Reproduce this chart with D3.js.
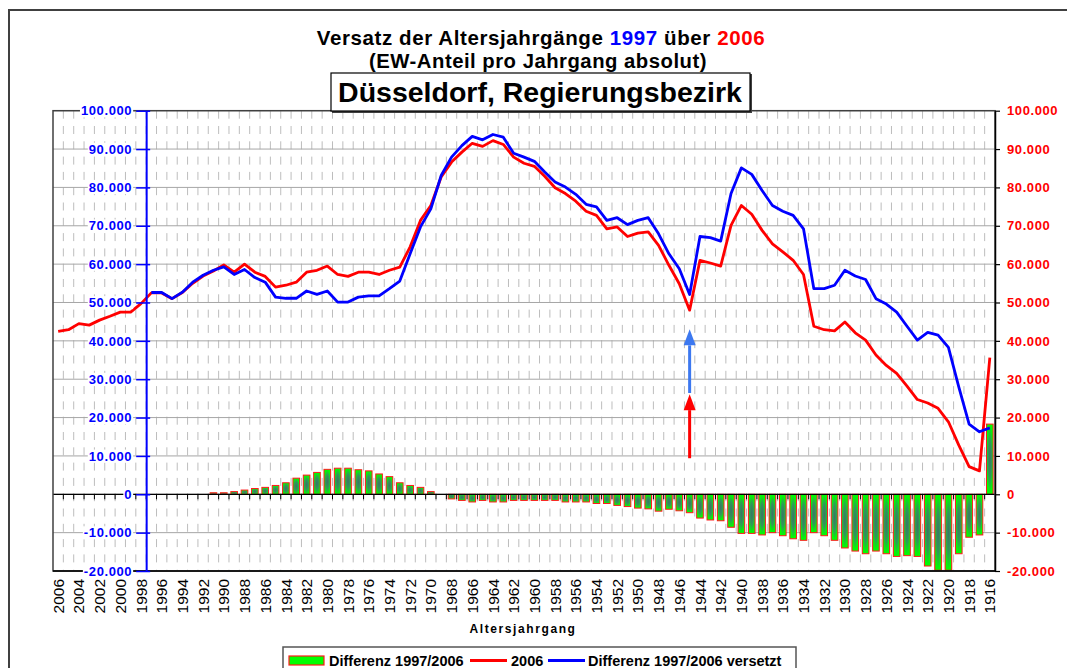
<!DOCTYPE html>
<html>
<head>
<meta charset="utf-8">
<script src="https://cdn.jsdelivr.net/npm/d3@7"></script>
<style>
  html, body { margin: 0; padding: 0; background: #fff; }
  svg { display: block; font-family: "Liberation Sans", Arial, sans-serif; }
</style>
</head>
<body>
<svg id="chart" width="1067" height="668"></svg>
<script>
// Altersjahrgänge 2006 -> 1916
const years = d3.range(2006, 1915, -1);

// 2006 (rote Linie)
const ew2006 = [
  42500, 42900, 44500, 44100, 45400, 46400, 47500, 47500, 49700, 52500,
  52500, 51000, 52600, 55000, 56900, 58200, 59800, 57900, 60000, 57900,
  56800, 54000, 54500, 55300, 57900, 58400, 59500, 57300, 56800, 57900,
  57900, 57300, 58400, 59200, 64500, 71400, 75300, 82700, 86600, 89200,
  91500, 90700, 92200, 91200, 87900, 86300, 85500, 82900, 79900, 78400,
  76400, 73800, 72700, 69200, 69700, 67200, 68100, 68400, 64900, 59700,
  54900, 48000, 61000, 60300, 59500, 70100, 75300, 73000, 68800, 65300,
  63200, 61000, 57300, 43800, 42900, 42600, 44900, 42100, 40200, 36300,
  33600, 31500, 28200, 24700, 23800, 22400, 18900, 12800, 7200, 6100,
  35600
];

// Differenz 1997/2006 versetzt (blaue Linie), beginnt 1997
const ewVersetzt = [
  null, null, null, null, null, null, null, null, null,
  52600, 52600, 51000, 52700, 55300, 57100, 58400, 59300, 57300, 58600,
  56500, 55300, 51400, 51100, 51100, 53000, 52100, 53000, 50100, 50100,
  51400, 51700, 51700, 53600, 55600, 62700, 69700, 74400, 83100, 87900,
  90900, 93300, 92400, 93800, 93100, 88900, 87900, 86800, 84000, 81400,
  80100, 78200, 75600, 74900, 71400, 72100, 70300, 71400, 72100, 67900,
  62700, 58800, 52100, 67200, 66900, 66000, 78400, 85100, 83400, 79200,
  75300, 73800, 72700, 69200, 53600, 53600, 54500, 58400, 56900, 56000,
  51000, 49600, 47500, 43800, 40200, 42200, 41500, 38300, 28000, 18300,
  16300, 17300
];

// Differenz 1997/2006 (Säulen)
const differenz = [
  0, 0, 0, 0, 0, 0, 0, 0, 0, 0, 0, 0, 0, 0, 0,
  400, 400, 700, 1100, 1500, 1800, 2300, 3000, 4200, 5000,
  5700, 6500, 6800, 6800, 6400, 6100, 5300, 4600, 3000, 2300,
  1800, 700, 0, -1200, -1600, -2000, -1600, -2000, -2000, -1600,
  -1600, -1600, -1600, -1600, -2000, -2000, -2000, -2400, -2400, -2900,
  -3200, -3600, -3800, -4400, -3900, -4300, -4800, -6200, -6700, -6900,
  -8600, -10200, -10200, -10600, -10000, -10800, -11600, -12000, -10000, -10800,
  -12000, -14000, -14800, -15500, -14800, -15500, -16200, -16000, -16200, -18700,
  -19800, -19800, -15500, -11200, -10600, 18300
];

const yTicks = [-20000, -10000, 0, 10000, 20000, 30000, 40000, 50000, 60000, 70000, 80000, 90000, 100000];
const xLabelYears = years.filter(d => d % 2 === 0);

// Pfeile (Jahrgang 1945)
const arrows = [
  { year: 1945, from: 9400, to: 26100, color: '#ff0000' },
  { year: 1945, from: 26400, to: 43000, color: '#3c78f0' }
];

const legendItems = [
  { label: 'Differenz 1997/2006', type: 'bar' },
  { label: '2006', type: 'line', color: '#ff0000' },
  { label: 'Differenz 1997/2006 versetzt', type: 'line', color: '#0000ff' }
];

const plot = { left: 53, right: 995, top: 110.7, bottom: 571 };

const svg = d3.select('#chart');

const fmt = d3.formatLocale({
  decimal: ',', thousands: '.', grouping: [3], currency: ['', ' €'], minus: '-'
}).format(',d');

const x = d3.scaleBand().domain(years).range([plot.left, plot.right]).padding(0);
const y = d3.scaleLinear().domain([-20000, 100000]).range([plot.bottom, plot.top]);
const cx = d => x(d) + x.bandwidth() / 2;

// Gradient for bars (dark centre, bright green edges)
const defs = svg.append('defs');
const grad = defs.append('radialGradient').attr('id', 'barGrad')
  .attr('cx', 0.5).attr('cy', 0.5).attr('r', 0.5);
grad.append('stop').attr('offset', '0%').attr('stop-color', '#3a7565');
grad.append('stop').attr('offset', '55%').attr('stop-color', '#2f9a58');
grad.append('stop').attr('offset', '100%').attr('stop-color', '#00ff00');

// Outer frame
svg.append('rect')
  .attr('x', 9).attr('y', 10).attr('width', 1100).attr('height', 700)
  .attr('fill', '#fff').attr('stroke', '#404040').attr('stroke-width', 2);

// Grid
const grid = svg.append('g');
grid.selectAll('line.v')
  .data(years.slice(1))
  .enter().append('line')
  .attr('x1', d => x(d)).attr('x2', d => x(d))
  .attr('y1', plot.top).attr('y2', plot.bottom)
  .attr('stroke', '#bdbdbd').attr('stroke-width', 1)
  .attr('stroke-dasharray', '8,7.3');

grid.selectAll('line.h')
  .data(yTicks)
  .enter().append('line')
  .attr('x1', plot.left).attr('x2', plot.right)
  .attr('y1', d => y(d)).attr('y2', d => y(d))
  .attr('stroke', '#a6a6a6').attr('stroke-width', 1);

// Bars
const bw = x.bandwidth() * 0.64;
svg.append('g').selectAll('rect')
  .data(years.map((yr, i) => ({ year: yr, v: differenz[i] })).filter(d => d.v !== 0))
  .enter().append('rect')
  .attr('x', d => cx(d.year) - bw / 2)
  .attr('width', bw)
  .attr('y', d => y(Math.max(0, d.v)))
  .attr('height', d => Math.abs(y(d.v) - y(0)))
  .attr('fill', 'url(#barGrad)')
  .attr('stroke', '#ff1a1a').attr('stroke-width', 1);

// Zero line + ticks
svg.append('line')
  .attr('x1', plot.left).attr('x2', plot.right)
  .attr('y1', y(0)).attr('y2', y(0))
  .attr('stroke', '#000').attr('stroke-width', 1.2);
svg.append('g').selectAll('line')
  .data(years.slice(1))
  .enter().append('line')
  .attr('x1', d => x(d)).attr('x2', d => x(d))
  .attr('y1', y(0)).attr('y2', y(0) + 5)
  .attr('stroke', '#000').attr('stroke-width', 1);

// Plot border
svg.append('rect')
  .attr('x', plot.left).attr('y', plot.top)
  .attr('width', plot.right - plot.left).attr('height', plot.bottom - plot.top)
  .attr('fill', 'none').attr('stroke', '#404040').attr('stroke-width', 1.5);
svg.append('line')
  .attr('x1', plot.left).attr('x2', plot.right)
  .attr('y1', plot.bottom).attr('y2', plot.bottom)
  .attr('stroke', '#000').attr('stroke-width', 1.5);

// Lines
const line = d3.line()
  .defined(d => d.v != null)
  .x(d => cx(d.year))
  .y(d => y(d.v));

svg.append('path')
  .datum(years.map((yr, i) => ({ year: yr, v: ew2006[i] })))
  .attr('d', line)
  .attr('fill', 'none').attr('stroke', '#ff0000').attr('stroke-width', 2.8)
  .attr('stroke-linejoin', 'round');

svg.append('path')
  .datum(years.map((yr, i) => ({ year: yr, v: ewVersetzt[i] })))
  .attr('d', line)
  .attr('fill', 'none').attr('stroke', '#0000ff').attr('stroke-width', 2.8)
  .attr('stroke-linejoin', 'round');

// Left (blue) axis at 1997 boundary
const axL = svg.append('g')
  .attr('transform', `translate(${x(1997)},0)`)
  .call(d3.axisLeft(y).tickValues(yTicks).tickSize(10).tickSizeOuter(0).tickPadding(4).tickFormat(fmt));
axL.select('.domain').attr('stroke', '#0000ff').attr('stroke-width', 2);
axL.selectAll('.tick line').attr('stroke', '#0000ff').attr('stroke-width', 1.5).attr('x2', -10);
axL.selectAll('.tick').append('line')
  .attr('x1', 0).attr('x2', 4).attr('stroke', '#0000ff').attr('stroke-width', 1.5);
axL.selectAll('.tick text')
  .attr('fill', '#0000ff').attr('font-size', 13).attr('font-weight', 'bold')
  .attr('letter-spacing', '0.6px')
  .attr('font-family', '"Liberation Sans", Arial, sans-serif');
axL.selectAll('.tick').each(function () {
  const t = d3.select(this).select('text');
  const b = t.node().getBBox();
  d3.select(this).insert('rect', 'text')
    .attr('x', b.x - 1).attr('y', b.y + 1).attr('width', b.width + 2).attr('height', b.height - 2)
    .attr('fill', '#fff');
});

// Right (red) axis
const axR = svg.append('g')
  .attr('transform', `translate(${plot.right},0)`)
  .call(d3.axisRight(y).tickValues(yTicks).tickSize(5).tickSizeOuter(0).tickPadding(7).tickFormat(fmt));
axR.select('.domain').attr('stroke', '#000').attr('stroke-width', 1.5);
axR.selectAll('.tick line').attr('stroke', '#000').attr('stroke-width', 1.2);
axR.selectAll('.tick text')
  .attr('fill', '#ff0000').attr('font-size', 13).attr('font-weight', 'bold')
  .attr('letter-spacing', '0.6px')
  .attr('font-family', '"Liberation Sans", Arial, sans-serif');

// X axis labels
const axB = svg.append('g')
  .attr('transform', `translate(0,${plot.bottom})`)
  .call(d3.axisBottom(x).tickValues(xLabelYears).tickSize(0).tickPadding(0));
axB.select('.domain').remove();
axB.selectAll('.tick text')
  .attr('transform', 'rotate(-90)')
  .attr('text-anchor', 'end')
  .attr('x', -8).attr('y', 0).attr('dy', '0.36em')
  .attr('fill', '#000').attr('font-size', 15.5)
  .attr('font-family', '"Liberation Sans", Arial, sans-serif');

svg.append('text')
  .attr('x', 523).attr('y', 633)
  .attr('text-anchor', 'middle')
  .attr('font-size', 12).attr('font-weight', 'bold').attr('letter-spacing', '1.6px')
  .text('Altersjahrgang');

// Arrows
arrows.forEach(a => {
  const ax = cx(a.year);
  const headLen = 16, headW = 12;
  svg.append('line')
    .attr('x1', ax).attr('x2', ax)
    .attr('y1', y(a.from)).attr('y2', y(a.to) + headLen)
    .attr('stroke', a.color).attr('stroke-width', 3);
  svg.append('path')
    .attr('d', `M${ax},${y(a.to)} L${ax - headW / 2},${y(a.to) + headLen} L${ax + headW / 2},${y(a.to) + headLen} Z`)
    .attr('fill', a.color);
});

// Titles
const t1 = svg.append('text')
  .attr('x', 541).attr('y', 45).attr('text-anchor', 'middle')
  .attr('font-size', 20.5).attr('font-weight', 'bold').attr('letter-spacing', '0.6px');
t1.append('tspan').text('Versatz der Altersjahrgänge ');
t1.append('tspan').attr('fill', '#0000ff').text('1997');
t1.append('tspan').text(' über ');
t1.append('tspan').attr('fill', '#ff0000').text('2006');

svg.append('text')
  .attr('x', 538).attr('y', 68).attr('text-anchor', 'middle')
  .attr('font-size', 20.3).attr('font-weight', 'bold').attr('letter-spacing', '0.5px')
  .text('(EW-Anteil pro Jahrgang absolut)');

svg.append('rect')
  .attr('x', 332).attr('y', 74).attr('width', 420).attr('height', 39)
  .attr('fill', '#404040');
svg.append('rect')
  .attr('x', 331).attr('y', 73).attr('width', 419).attr('height', 38)
  .attr('fill', '#fff').attr('stroke', '#000').attr('stroke-width', 1.2);
svg.append('text')
  .attr('x', 540).attr('y', 102).attr('text-anchor', 'middle')
  .attr('font-size', 28.5).attr('font-weight', 'bold')
  .text('Düsseldorf, Regierungsbezirk');

// Legend
const lg = svg.append('g');
lg.append('rect')
  .attr('x', 283).attr('y', 647).attr('width', 513).attr('height', 40)
  .attr('fill', '#fff').attr('stroke', '#555').attr('stroke-width', 1.5);
const legendX = [289, 470, 548];
const legendTextX = [329, 511, 588];
legendItems.forEach((it, i) => {
  if (it.type === 'bar') {
    lg.append('rect')
      .attr('x', legendX[i]).attr('y', 656).attr('width', 35).attr('height', 9)
      .attr('fill', '#00ff00').attr('stroke', '#ff1a1a').attr('stroke-width', 1.2);
  } else {
    lg.append('line')
      .attr('x1', legendX[i]).attr('x2', legendX[i] + 37)
      .attr('y1', 660.5).attr('y2', 660.5)
      .attr('stroke', it.color).attr('stroke-width', 3);
  }
  lg.append('text')
    .attr('x', legendTextX[i]).attr('y', 665.5)
    .attr('font-size', 14.5).attr('font-weight', 'bold')
    .text(it.label);
});
</script>
</body>
</html>
